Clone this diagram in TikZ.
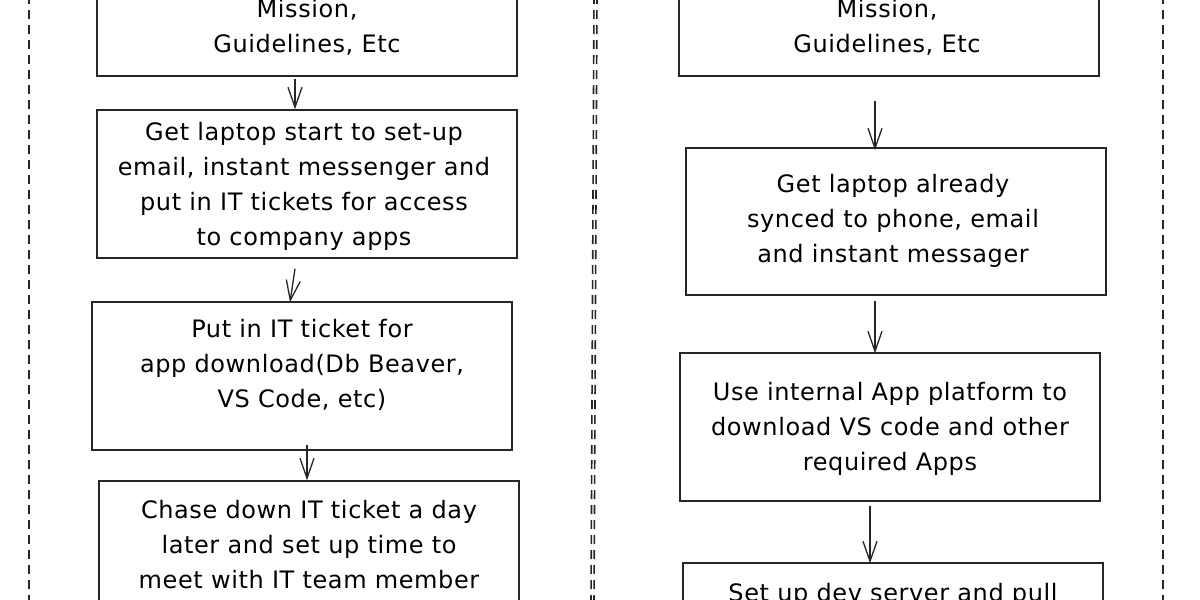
\documentclass[tikz,border=0pt]{standalone}
\usepackage{fontspec}
\setmainfont[LetterSpace=2.5]{DejaVu Sans}
\usetikzlibrary{arrows.meta}
\begin{document}
\begin{tikzpicture}[x=1pt,y=-1pt,
  box/.style={draw=black!85, line width=1.5pt, rectangle, inner sep=0pt},
  txt/.style={align=center, inner sep=0pt, font=\fontsize{24}{35}\selectfont},
  arr/.style={draw=black!85, line width=1.3pt, -{Straight Barb[length=20pt,width=14pt,line width=1.3pt]}},
  frame/.style={draw=black!85, line width=1.6pt, dash pattern=on 9pt off 6pt}
]
\useasboundingbox (0,0) rectangle (1200,600);
\clip (0,0) rectangle (1200,600);
\fill[white] (0,0) rectangle (1200,600);

% frame lines
\draw[frame] (29,-5) -- (29,605);
\draw[frame] (594,-5) -- (591,605);
\draw[frame] (597,-5) -- (594,605);
\draw[frame] (1163,-5) -- (1163,605);

% left column boxes
\node[box, minimum width=420pt, minimum height=160pt] (L1) at (307,-4) {};
\node[box, minimum width=420pt, minimum height=148pt] (L2) at (307,184) {};
\node[box, minimum width=420pt, minimum height=148pt] (L3) at (302,376) {};
\node[box, minimum width=420pt, minimum height=170pt] (L4) at (309,566) {};

\node[txt] (L1t) at (307,27) {Mission,\\Guidelines, Etc};
\node[txt] (L2t) at (304,186) {Get laptop start to set-up\\email, instant messenger and\\put in IT tickets for access\\to company apps};
\node[txt] (L3t) at (302,365) {Put in IT ticket for\\app download(Db Beaver,\\VS Code, etc)};
\node[txt] (L4t) at (309,545) {Chase down IT ticket a day\\later and set up time to\\meet with IT team member};

\draw[arr] ([xshift=-12pt,yshift=-2pt]L1.south) -- ([xshift=-12pt]L2.north);
\draw[arr] ([xshift=-12pt,yshift=-10pt]L2.south) -- ([xshift=-12pt,yshift=-1pt]L3.north);
\draw[arr] ([xshift=5pt,yshift=6pt]L3.south) -- ([xshift=-2pt]L4.north);

% right column boxes
\node[box, minimum width=420pt, minimum height=160pt] (R1) at (889,-4) {};
\node[box, minimum width=420pt, minimum height=147pt] (R2) at (896,221.5) {};
\node[box, minimum width=420pt, minimum height=148pt] (R3) at (890,427) {};
\node[box, minimum width=420pt, minimum height=170pt] (R4) at (893,648) {};

\node[txt] (R1t) at (887,27) {Mission,\\Guidelines, Etc};
\node[txt] (R2t) at (893,221) {Get laptop already\\synced to phone, email\\and instant messager};
\node[txt] (R3t) at (890,429) {Use internal App platform to\\download VS code and other\\required Apps};
\node[txt, anchor=north] (R4t) at (893,583) {Set up dev server and pull};

\draw[arr] ([xshift=-14pt,yshift=-24pt]R1.south) -- ([xshift=-21pt,yshift=-3pt]R2.north);
\draw[arr] ([xshift=-21pt,yshift=-5pt]R2.south) -- ([xshift=-15pt,yshift=-1pt]R3.north);
\draw[arr] ([xshift=-20pt,yshift=-4pt]R3.south) -- ([xshift=-23pt,yshift=-1pt]R4.north);
\end{tikzpicture}
\end{document}
